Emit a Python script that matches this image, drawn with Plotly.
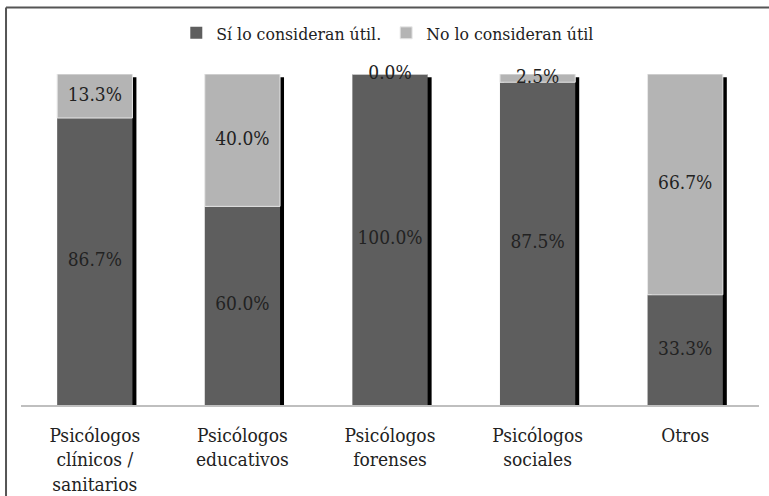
import plotly.graph_objects as go

categories = ["Psicólogos<br>clínicos /<br>sanitarios", "Psicólogos<br>educativos",
              "Psicólogos<br>forenses", "Psicólogos<br>sociales", "Otros"]
si_values = [86.7, 60.0, 100.0, 97.5, 33.3]
no_values = [13.3, 40.0, 0.0, 2.5, 66.7]
si_labels = ["86.7%", "60.0%", "100.0%", "87.5%", "33.3%"]
no_labels = ["13.3%", "40.0%", "0.0%", "2.5%", "66.7%"]
series_names = ["Sí lo consideran útil.", "No lo consideran útil"]

DARK = "#5e5e5e"
LIGHT = "#b4b4b4"
FONT = "DejaVu Serif Condensed, DejaVu Serif"
TXT = "#222222"
BW = 0.51

totals = [a + b for a, b in zip(si_values, no_values)]

fig = go.Figure()
# shadow
fig.add_trace(go.Bar(x=categories, y=[t - 1.0 for t in totals], base=[0] * 5,
                     width=BW, offset=-BW / 2 + 0.027,
                     marker=dict(color="#000000", line=dict(width=0)),
                     showlegend=False, hoverinfo="skip"))
fig.add_trace(go.Bar(x=categories, y=si_values, base=[0] * 5, name=series_names[0],
                     width=BW, offset=-BW / 2,
                     marker=dict(color=DARK, line=dict(width=0))))
fig.add_trace(go.Bar(x=categories, y=no_values, base=si_values, name=series_names[1],
                     width=BW, offset=-BW / 2,
                     marker=dict(color=LIGHT, line=dict(color="#e8e8e8", width=1))))
# labels
fig.add_trace(go.Scatter(x=categories, y=[v / 2 for v in si_values], text=si_labels,
                         mode="text", textfont=dict(family=FONT, size=19, color=TXT),
                         showlegend=False, hoverinfo="skip", cliponaxis=False))
fig.add_trace(go.Scatter(x=categories, y=[a + b / 2 for a, b in zip(si_values, no_values)],
                         text=no_labels, mode="text",
                         textfont=dict(family=FONT, size=19, color=TXT),
                         showlegend=False, hoverinfo="skip", cliponaxis=False))

fig.update_layout(
    width=769, height=496,
    margin=dict(l=21, r=10, t=74, b=91),
    barmode="overlay",
    paper_bgcolor="white", plot_bgcolor="white",
    font=dict(family=FONT, size=19, color=TXT),
    legend=dict(orientation="h", x=0.497, xanchor="center", y=1.124, yanchor="middle",
                font=dict(family=FONT, size=17.5, color=TXT), itemwidth=30,
                traceorder="normal"),
    xaxis=dict(showline=True, linecolor="#bfbfbf", linewidth=1.5, ticks="",
               showgrid=False, tickfont=dict(family=FONT, size=19, color=TXT),
               ticklabelstandoff=12, automargin=False, range=[-0.5, 4.5]),
    yaxis=dict(range=[0, 100], visible=False, showgrid=False, automargin=False),
    shapes=[dict(type="line", xref="paper", yref="paper",
                 x0=-0.0203, x1=-0.0203, y0=-0.5, y1=1.201,
                 line=dict(color="#555555", width=2)),
            dict(type="line", xref="paper", yref="paper",
                 x0=-0.0203, x1=1.2, y0=1.201, y1=1.201,
                 line=dict(color="#555555", width=2))],
)

fig.write_html("out.html")
